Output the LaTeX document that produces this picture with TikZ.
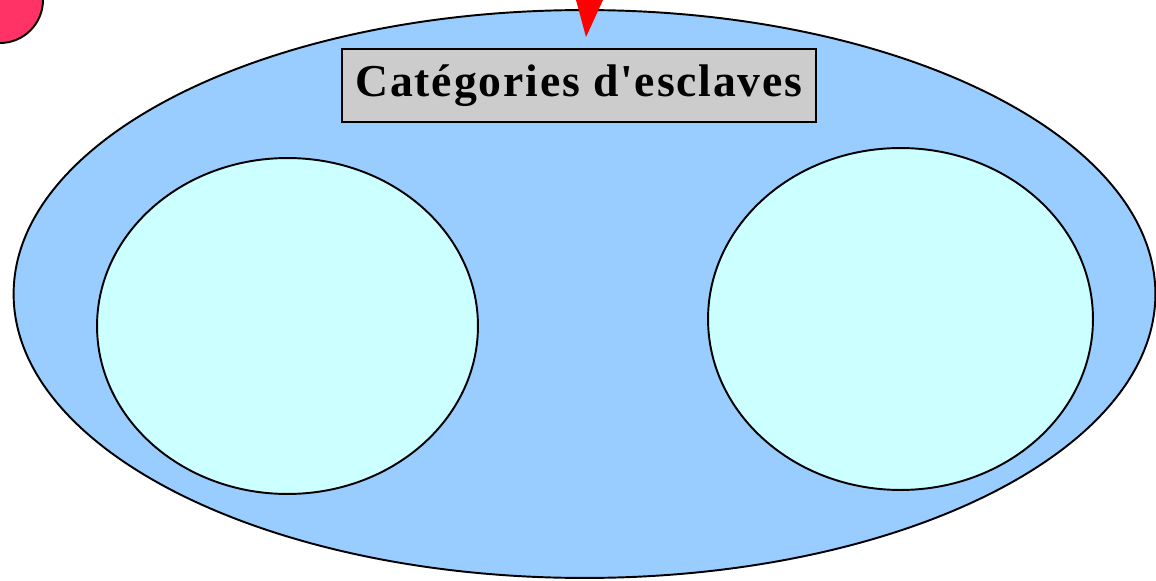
\documentclass[tikz,border=0pt]{standalone}
\usepackage{fontspec}
\setmainfont{Liberation Serif}[Ligatures=TeXOff]
\usetikzlibrary{shapes.geometric}
\definecolor{outerblue}{HTML}{99CCFF}
\definecolor{innercyan}{HTML}{CCFFFF}
\definecolor{boxgray}{HTML}{CCCCCC}
\definecolor{pinkred}{HTML}{FF3366}
\begin{document}
\begin{tikzpicture}[x={(0.02cm,0)},y={(0,-0.02cm)},
  outline/.style={draw=black,line width=1.1pt},
  titlebox/.style={outline,fill=boxgray,minimum width=9.48cm,minimum height=1.46cm,inner sep=0pt,font=\bfseries\fontsize{26}{30}\selectfont}]
\useasboundingbox (0,0) rectangle (1156,581);
\node[outline,fill=pinkred,circle,minimum size=1.72cm,inner sep=0pt] (dot) at (0,0) {};
\node[outline,fill=outerblue,ellipse,minimum width=22.84cm,minimum height=11.36cm,inner sep=0pt] (outer) at (584.5,294) {};
\node[outline,fill=innercyan,ellipse,minimum width=7.62cm,minimum height=6.72cm,inner sep=0pt] (left) at (287.5,326) {};
\node[outline,fill=innercyan,ellipse,minimum width=7.7cm,minimum height=6.84cm,inner sep=0pt] (right) at (900.5,319) {};
\node[titlebox] (title) at (579,85.5) {\addfontfeatures{LetterSpace=4}Catégories d'esclaves};
\coordinate (tip) at (586,37);
\fill[red] (576,0) -- (603,0) -- (tip) -- cycle;
\end{tikzpicture}
\end{document}
